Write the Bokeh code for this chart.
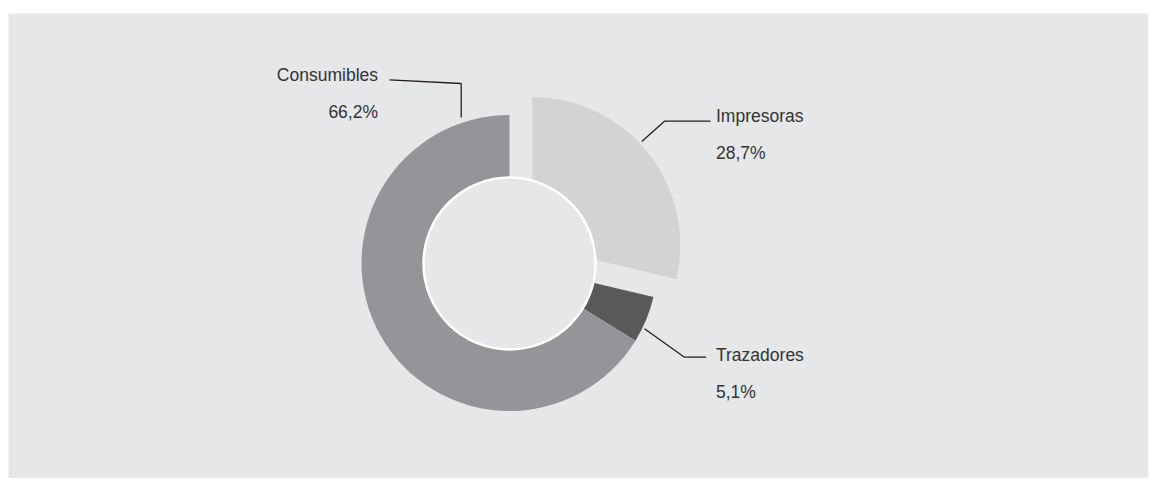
import math
from bokeh.plotting import figure
from bokeh.models import Range1d, ColumnDataSource
from bokeh.core.properties import value
from bokeh.embed import file_html
from bokeh.resources import INLINE

# ---- data ----
categories = ["Impresoras", "Trazadores", "Consumibles"]
shares = [28.7, 5.1, 66.2]
colors = ["#d1d3d4", "#58595b", "#939598"]
explode = [29, 0, 0]

# ---- layout constants (pixel space, y measured from top) ----
H = 479
CX, CY = 510, 262.5
R_OUT, R_IN = 148, 86
BG = "#e6e7e8"
TEXT = "#333333"
FONT = "Liberation Sans"

def Y(py):
    return H - py

p = figure(width=1148, height=478, output_backend="svg", toolbar_location=None,
           x_range=Range1d(9, 1149), y_range=Range1d(1, 466),
           background_fill_color=BG, border_fill_color="white",
           outline_line_color=None, min_border=0)
p.min_border_left = 8
p.min_border_top = 13
p.axis.visible = False
p.grid.visible = False

# wedges (clockwise from 12 o'clock)
total = sum(shares)
start = math.pi / 2
xs, ys, sa, ea = [], [], [], []
for s, d in zip(shares, explode):
    sweep = 2 * math.pi * s / total
    end = start - sweep
    mid = (start + end) / 2
    xs.append(CX + d * math.cos(mid))
    ys.append(Y(CY) + d * math.sin(mid))
    sa.append(end)
    ea.append(start)
    start = end

src = ColumnDataSource(dict(x=xs, y=ys, s=sa, e=ea, c=colors))
p.wedge(x="x", y="y", radius=R_OUT, start_angle="s", end_angle="e",
        direction="anticlock", fill_color="c", line_color=None, source=src)

# inner hole
p.circle(x=[CX], y=[Y(CY) - 0.5], radius=R_IN, fill_color=BG,
         line_color="white", line_width=2.5)

# leader lines
leaders = [
    ([642.3, 665, 711], [141, 120.7, 120.7]),
    ([645, 685, 706.7], [328.3, 356.7, 356.7]),
    ([390, 461.7, 461.7], [79.3, 83, 117]),
]
for lx, ly in leaders:
    p.line(x=lx, y=[Y(v) for v in ly], line_color="#231f20", line_width=1.3)

# labels
label_pos = {
    "Impresoras": (716.5, 115, 152.7, "left"),
    "Trazadores": (716.5, 354.3, 391.7, "left"),
    "Consumibles": (378.5, 74.3, 111.7, "right"),
}
for cat, s in zip(categories, shares):
    x, y1, y2, al = label_pos[cat]
    pct = f"{s:.1f}".replace(".", ",") + "%"
    p.text(x=[x, x], y=[Y(y1), Y(y2)], text=[cat, pct], text_align=al,
           text_baseline="alphabetic", text_font=value(FONT),
           text_font_size="17.5px", text_color=TEXT)

open("out.html", "w").write(file_html(p, INLINE))
